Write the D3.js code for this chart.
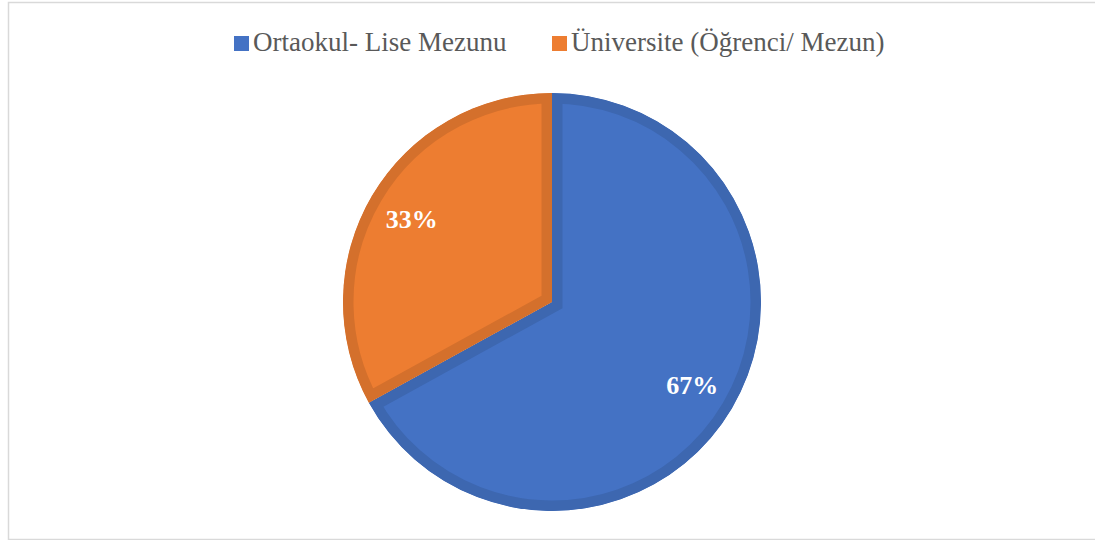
<!DOCTYPE html>
<html>
<head>
<meta charset="utf-8">
<script src="https://cdn.jsdelivr.net/npm/d3@7"></script>
<style>
  body { margin: 0; background: #fff; }
  svg { display: block; }
  text { font-family: "Liberation Serif", "Times New Roman", serif; }
</style>
</head>
<body>
<div id="chart"></div>
<script>
"use strict";

var categories = ["Ortaokul- Lise Mezunu", "Üniversite (Öğrenci/ Mezun)"];
var values = [67, 33];
var labels = ["67%", "33%"];
var fills = ["#4472C4", "#ED7D31"];
var strokes = ["#3D67B0", "#D4702C"];

var width = 1095, height = 540;
var cx = 552, cy = 302, radius = 209;

var svg = d3.select("#chart").append("svg")
	.attr("width", width).attr("height", height);

// chart frame (right side runs off the picture)
svg.append("path")
	.attr("d", "M1100,2.5 H8.5 V539.5 H1100")
	.attr("fill", "none").attr("stroke", "#d9d9d9").attr("stroke-width", 1.5);

var pie = d3.pie().sort(null).value(function(d){ return d; });
var arcs = pie(values);
var arc = d3.arc().innerRadius(0).outerRadius(radius);
var labelArc = d3.arc().innerRadius(radius * 0.78).outerRadius(radius * 0.78);

var g = svg.append("g").attr("transform", "translate(" + cx + "," + cy + ")");
var defs = svg.append("defs");

arcs.forEach(function(d, i){
	defs.append("clipPath").attr("id", "clip" + i)
		.append("path").attr("d", arc(d));
});

// fill + inner border (stroke clipped to the slice)
g.selectAll("path.slice").data(arcs).enter().append("path")
	.attr("class", "slice")
	.attr("d", arc)
	.attr("fill", function(d, i){ return fills[i]; })
	.attr("stroke", function(d, i){ return strokes[i]; })
	.attr("stroke-width", 21)
	.attr("stroke-linejoin", "miter")
	.attr("clip-path", function(d, i){ return "url(#clip" + i + ")"; });

g.selectAll("text.lbl").data(arcs).enter().append("text")
	.attr("class", "lbl")
	.attr("transform", function(d){ return "translate(" + labelArc.centroid(d) + ")"; })
	.attr("text-anchor", "middle")
	.attr("dy", "0.35em")
	.attr("font-weight", "bold")
	.attr("font-size", 26)
	.attr("fill", "#fff")
	.text(function(d, i){ return labels[i]; });

// legend
var legendX = [234, 552];
var lg = svg.selectAll("g.legend").data(categories).enter().append("g")
	.attr("class", "legend")
	.attr("transform", function(d, i){ return "translate(" + legendX[i] + ",36)"; });
lg.append("rect").attr("width", 15).attr("height", 15)
	.attr("fill", function(d, i){ return fills[i]; });
lg.append("text").attr("x", 19).attr("y", 15)
	.attr("font-size", 27)
	.attr("fill", "#595959")
	.text(function(d){ return d; });
</script>
</body>
</html>
